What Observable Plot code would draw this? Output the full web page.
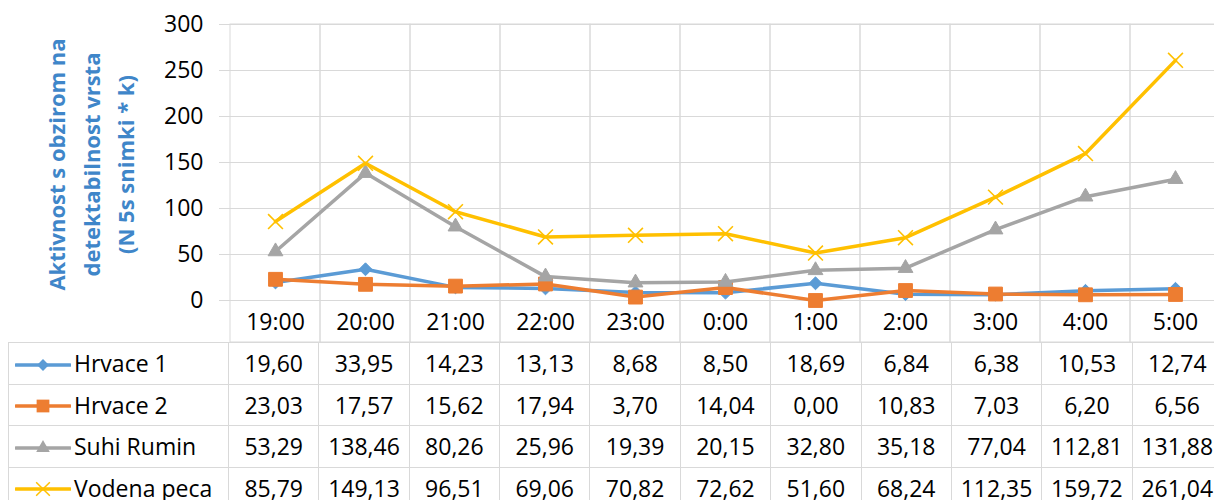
<!DOCTYPE html>
<html><head><meta charset="utf-8">
<script src="https://cdn.jsdelivr.net/npm/d3@7"></script>
<script src="https://cdn.jsdelivr.net/npm/@observablehq/plot@0.6"></script>
<style>
html,body{margin:0;padding:0;background:#fff;overflow:hidden;width:1214px;height:500px}
#chart svg{display:block}
table{border-collapse:collapse;margin-left:8px;table-layout:fixed;width:1214px;font-family:"Open Sans";font-size:23px;color:#000}
td{border:1px solid #d9d9d9;height:40.5px;padding:0;text-align:center;white-space:nowrap;overflow:hidden;line-height:40px}
td.leg{text-align:left}
td.leg svg{vertical-align:middle;margin-left:6px;margin-top:-3px}
td.leg span{margin-left:3px}
</style></head><body><div id="chart"></div><div id="table"></div>
<script>
const times = ["19:00","20:00","21:00","22:00","23:00","0:00","1:00","2:00","3:00","4:00","5:00"];
const hrvace1 = [19.60,33.95,14.23,13.13,8.68,8.50,18.69,6.84,6.38,10.53,12.74];
const hrvace2 = [23.03,17.57,15.62,17.94,3.70,14.04,0.00,10.83,7.03,6.20,6.56];
const suhiRumin = [53.29,138.46,80.26,25.96,19.39,20.15,32.80,35.18,77.04,112.81,131.88];
const vodenaPeca = [85.79,149.13,96.51,69.06,70.82,72.62,51.60,68.24,112.35,159.72,261.04];
const seriesNames = ["Hrvace 1","Hrvace 2","Suhi Rumin","Vodena peca"];
const yTicks = [0,50,100,150,200,250,300];
const yTitle = "Aktivnost s obzirom na\ndetektabilnost vrsta\n(N 5s snimki * k)";

const grid = "#d9d9d9";
const series = [
  {name: seriesNames[0], values: hrvace1, color: "#5B9BD5", symbol: "diamond2", r: 5.8, d3sym: d3.symbolDiamond2},
  {name: seriesNames[1], values: hrvace2, color: "#ED7D31", symbol: "square", r: 7.8, d3sym: d3.symbolSquare},
  {name: seriesNames[2], values: suhiRumin, color: "#A5A5A5", symbol: "triangle", r: 5.5, d3sym: d3.symbolTriangle},
  {name: seriesNames[3], values: vodenaPeca, color: "#FFC000", symbol: "times", r: 6.8, d3sym: d3.symbolTimes}
];
const rows = s => times.map((t, i) => ({series: s.name, time: t, value: s.values[i]}));

const marks = [
  Plot.gridY(yTicks, {stroke: grid, strokeOpacity: 1}),
  Plot.cell(times, {x: d => d, fill: "none", stroke: grid, insetBottom: -42}),
  Plot.axisY(yTicks, {tickSize: 9, tickPadding: 16, stroke: grid, fill: "#000", tickFormat: d => String(d), label: null}),
  Plot.axisX({tickSize: 0, tickPadding: 13, fill: "#000", label: null}),
  Plot.text([yTitle], {frameAnchor: "left", dx: -140, dy: 2, rotate: -90, fill: "#3f86c9", fontWeight: "bold", fontSize: 22, lineHeight: 1.57, textAnchor: "middle"})
];
for (const s of series) {
  marks.push(Plot.line(rows(s), {x: "time", y: "value", stroke: s.color, strokeWidth: 3.5}));
  if (s.symbol === "times") {
    marks.push(Plot.dot(rows(s), {x: "time", y: "value", symbol: "times", r: s.r, stroke: s.color, strokeWidth: 1.6}));
  } else {
    marks.push(Plot.dot(rows(s), {x: "time", y: "value", symbol: s.symbol, r: s.r, fill: s.color, stroke: s.color, strokeWidth: 1}));
  }
}

const chart = Plot.plot({
  width: 1214,
  height: 342,
  marginLeft: 228,
  marginRight: 0,
  marginTop: 24,
  marginBottom: 42,
  style: {fontFamily: "Open Sans", fontSize: "23px", color: "#000", background: "#fff"},
  x: {type: "band", domain: times, range: [228, 1222], padding: 0, label: null},
  y: {domain: [0, 300], label: null},
  marks
});
document.getElementById("chart").appendChild(chart);

const fmt = v => d3.format(".2f")(v).replace(".", ",");
const table = d3.select("#table").append("table");
const cg = table.append("colgroup");
cg.append("col").style("width", "220px");
times.forEach(() => cg.append("col").style("width", ((1214 - 220) / times.length) + "px"));
for (const s of series) {
  const tr = table.append("tr");
  const td = tr.append("td").attr("class", "leg");
  const svg = td.append("svg").attr("width", 56).attr("height", 20);
  svg.append("line").attr("x1", 1).attr("x2", 55).attr("y1", 10).attr("y2", 10)
    .attr("stroke", s.color).attr("stroke-width", 3.5).attr("stroke-linecap", "round");
  const p = svg.append("path").attr("transform", "translate(28,10)")
    .attr("d", d3.symbol(s.d3sym, Math.PI * s.r * s.r * 0.85)());
  if (s.symbol === "times") p.attr("fill", "none").attr("stroke", s.color).attr("stroke-width", 1.5);
  else p.attr("fill", s.color);
  td.append("span").text(s.name);
  s.values.forEach(v => tr.append("td").text(fmt(v)));
}
</script></body></html>
